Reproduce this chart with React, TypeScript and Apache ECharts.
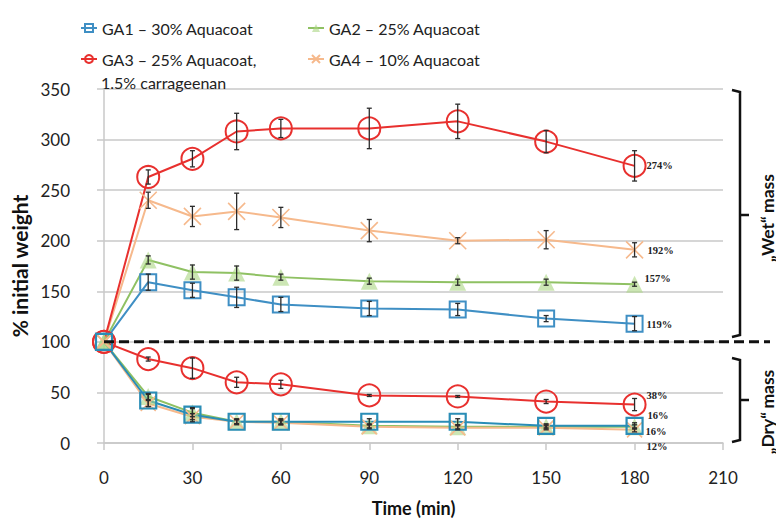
import React, { useEffect, useRef } from "react";
import * as echarts from "echarts";

// ---- data ----
const times = [0, 15, 30, 45, 60, 90, 120, 150, 180];
const xTicks = [0, 30, 60, 90, 120, 150, 180, 210];
const yTicks = [0, 50, 100, 150, 200, 250, 300, 350];

const seriesNames = [
  "GA1 – 30% Aquacoat",
  "GA2 – 25% Aquacoat",
  "GA3 – 25% Aquacoat,",
  "GA4 – 10% Aquacoat",
];
const ga3SecondLine = "1.5% carrageenan";

// "Wet" mass
const ga1Wet = [100, 159, 151, 144, 137, 133, 132, 123, 118];
const ga1WetErr = [0, 8, 7, 10, 7, 7, 6, 3, 7];
const ga2Wet = [100, 181, 169, 168, 164, 160, 159, 159, 157];
const ga2WetErr = [0, 4, 7, 7, 3, 3, 3, 3, 2];
const ga3Wet = [100, 263, 281, 308, 311, 311, 318, 298, 274];
const ga3WetErr = [0, 7, 8, 18, 9, 20, 17, 11, 15];
const ga4Wet = [100, 240, 224, 229, 223, 210, 200, 201, 191];
const ga4WetErr = [0, 8, 10, 18, 10, 11, 3, 9, 7];

// "Dry" mass
const ga1Dry = [100, 42, 28, 21, 21, 21, 21, 17, 17];
const ga1DryErr = [0, 6, 7, 3, 3, 3, 3, 2, 3];
const ga2Dry = [100, 46, 30, 21, 21, 17, 16, 16, 16];
const ga2DryErr = [0, 3, 4, 2, 2, 2, 2, 2, 2];
const ga3Dry = [100, 83, 74, 60, 58, 47, 46, 41, 38];
const ga3DryErr = [0, 2, 10, 5, 4, 1, 1, 2, 6];
const ga4Dry = [100, 39, 26, 21, 20, 16, 15, 15, 13];
const ga4DryErr = [0, 3, 3, 2, 2, 2, 2, 2, 2];

const endLabelTexts = ["274%", "192%", "157%", "119%", "38%", "16%", "16%", "12%"];
const endLabelValues = [ga3Wet[8], ga4Wet[8], ga2Wet[8], ga1Wet[8], ga3Dry[8], ga1Dry[8], ga2Dry[8], ga4Dry[8]];

// ---- styles ----
const C1 = "#3f8fc4";
const C2 = "#8fc163";
const C3 = "#e8302e";
const C4 = "#f6b98c";
const FONT = "Lato, 'Open Sans', sans-serif";

const endLabelOffsets = [
  [12, 0], [13, 1], [10, -6], [12, 1], [12, -9], [13, -10], [11, 5], [12, 17],
];

const xSym = "path://M0,0L10,10M10,0L0,10";

function lineSeries(name: string, data: number[], color: string, symbol: string, size: number, fill: string, borderW: number) {
  return {
    type: "line",
    name,
    data: times.map((t, i) => [t, data[i]]),
    symbol,
    symbolSize: size,
    showAllSymbol: true,
    lineStyle: { color, width: 2 },
    itemStyle: { color: fill, borderColor: symbol === "triangle" ? fill : color, borderWidth: borderW },
    z: 3,
  };
}

function errSeries(vals: number[][], errs: number[][]) {
  const data: number[][] = [];
  vals.forEach((v, s) => v.forEach((y, i) => data.push([times[i], y, errs[s][i]])));
  return {
    type: "custom",
    data,
    encode: { x: 0, y: 1 },
    z: 6,
    silent: true,
    renderItem: (params: any, api: any) => {
      const x = api.value(0);
      const y = api.value(1);
      const e = api.value(2);
      if (!e) return null;
      const top = api.coord([x, y + e]);
      const bot = api.coord([x, y - e]);
      const w = 2.5;
      const st = { stroke: "#2b2b2b", lineWidth: 1.3 };
      return {
        type: "group",
        children: [
          { type: "line", shape: { x1: top[0], y1: top[1], x2: bot[0], y2: bot[1] }, style: st },
          { type: "line", shape: { x1: top[0] - w, y1: top[1], x2: top[0] + w, y2: top[1] }, style: st },
          { type: "line", shape: { x1: bot[0] - w, y1: bot[1], x2: bot[0] + w, y2: bot[1] }, style: st },
        ],
      };
    },
  };
}

export default function App() {
  const ref = useRef<HTMLDivElement>(null);
  useEffect(() => {
    document.body.style.margin = "0";
    const chart = echarts.init(ref.current!, null, { renderer: "svg" });
    const legendText = { fontFamily: FONT, fontSize: 16, color: "#222", lineHeight: 20 };
    const legendBase = {
      orient: "vertical",
      top: 18,
      padding: 0,
      itemGap: 11,
      itemWidth: 16,
      itemHeight: 10,
      textStyle: legendText,
    };
    const option: any = {
      animation: false,
      backgroundColor: "#fff",
      grid: { left: 104, right: 53, top: 89, bottom: 74 },
      legend: [
        { ...legendBase, data: [seriesNames[0], seriesNames[2]], left: 80 },
        { ...legendBase, data: [seriesNames[1], seriesNames[3]], left: 307 },
      ],
      xAxis: {
        type: "value",
        min: xTicks[0],
        max: xTicks[xTicks.length - 1],
        interval: 30,
        name: "Time (min)",
        nameLocation: "middle",
        nameGap: 56,
        nameTextStyle: { fontFamily: FONT, fontWeight: "bold", fontSize: 18, color: "#111" },
        axisLine: { show: true, lineStyle: { color: "#c8c8c8", width: 1.5 } },
        axisTick: { show: true, length: 7, lineStyle: { color: "#c8c8c8", width: 1.5 } },
        axisLabel: { margin: 26, fontFamily: FONT, fontSize: 17, color: "#222" },
        splitLine: { show: false },
      },
      yAxis: {
        type: "value",
        min: yTicks[0],
        max: yTicks[yTicks.length - 1],
        interval: 50,
        name: "% initial weight",
        nameLocation: "middle",
        nameGap: 66,
        nameTextStyle: { fontFamily: FONT, fontWeight: "bold", fontSize: 21, color: "#111" },
        axisLine: { show: true, lineStyle: { color: "#c8c8c8", width: 1.5 } },
        axisTick: { show: true, length: 7, lineStyle: { color: "#c8c8c8", width: 1.5 } },
        axisLabel: { margin: 34, fontFamily: FONT, fontSize: 17, color: "#222" },
        splitLine: { show: true, lineStyle: { color: "#c8c8c8", width: 1.5 } },
      },
      series: [
        lineSeries(seriesNames[0], ga1Wet, C1, "rect", 16, "rgba(255,255,255,0)", 2),
        lineSeries(seriesNames[1], ga2Wet, C2, "triangle", 17, "rgba(170,214,130,0.6)", 0),
        lineSeries(seriesNames[3], ga4Wet, C4, xSym, 17, "rgba(255,255,255,0)", 1.6),
        lineSeries(seriesNames[2], ga3Wet, C3, "circle", 22, "rgba(255,255,255,0)", 2),
        lineSeries(seriesNames[2], ga3Dry, C3, "circle", 22, "rgba(255,255,255,0)", 2),
        lineSeries(seriesNames[1], ga2Dry, C2, "triangle", 17, "rgba(170,214,130,0.6)", 0),
        lineSeries(seriesNames[3], ga4Dry, C4, xSym, 15, "rgba(255,255,255,0)", 1.6),
        lineSeries(seriesNames[0], ga1Dry, "#2a8db6", "rect", 16, "rgba(255,255,255,0)", 2.2),
        errSeries(
          [ga1Wet, ga2Wet, ga3Wet, ga4Wet, ga1Dry, ga2Dry, ga3Dry, ga4Dry],
          [ga1WetErr, ga2WetErr, ga3WetErr, ga4WetErr, ga1DryErr, ga2DryErr, ga3DryErr, ga4DryErr]
        ),
      ],
    };
    chart.setOption(option);

    const px = (x: number, y: number) => chart.convertToPixel({ gridIndex: 0 } as any, [x, y]) as number[];
    const lastT = times[times.length - 1];
    const graphics: any[] = [];
    // end-value labels
    endLabelTexts.forEach((t, i) => {
      const p = px(lastT, endLabelValues[i]);
      graphics.push({
        type: "text",
        x: p[0] + endLabelOffsets[i][0],
        y: p[1] + endLabelOffsets[i][1],
        style: {
          text: t,
          font: "bold 10.5px 'Liberation Serif', serif",
          fill: "#222",
          verticalAlign: "middle",
          align: "left",
        },
        z: 10,
      });
    });
    // dashed separator at 100 %
    const p100 = px(0, 100);
    graphics.push({
      type: "line",
      shape: { x1: p100[0], y1: p100[1], x2: 770, y2: p100[1] },
      style: { stroke: "#111", lineWidth: 3, lineDash: [10, 5] },
      z: 4,
    });
    // brackets
    const bracket = (y1: number, y2: number, ym: number) => [
      {
        type: "polyline",
        shape: { points: [[732, y1], [740, y1 + 2], [740, y2 - 2], [732, y2]] },
        style: { stroke: "#111", lineWidth: 2.5, fill: null },
      },
      {
        type: "line",
        shape: { x1: 740, y1: ym, x2: 749, y2: ym },
        style: { stroke: "#111", lineWidth: 2.5 },
      },
    ];
    graphics.push(...bracket(90, 337, 215));
    graphics.push(...bracket(358, 442, 400));
    const sideText = (word: string, y: number) => ({
      type: "text",
      x: 767,
      y,
      rotation: Math.PI / 2,
      style: {
        text: `{b|„${word}“} {n|mass}`,
        align: "center",
        verticalAlign: "middle",
        rich: {
          b: { fontFamily: FONT, fontWeight: "bold", fontSize: 17.5, fill: "#111" },
          n: { fontFamily: FONT, fontWeight: "bold", fontSize: 17.5, fill: "#111" },
        },
      },
    });
    graphics.push(sideText("Wet", 218));
    graphics.push(sideText("Dry", 412));
    // second line of GA3 legend entry
    graphics.push({
      type: "text",
      x: 101,
      y: 82,
      style: { text: ga3SecondLine, font: `16px ${FONT}`, fill: "#222", verticalAlign: "middle" },
    });
    chart.setOption({ graphic: graphics });
    return () => chart.dispose();
  }, []);
  return <div ref={ref} style={{ width: 776, height: 522 }} />;
}
